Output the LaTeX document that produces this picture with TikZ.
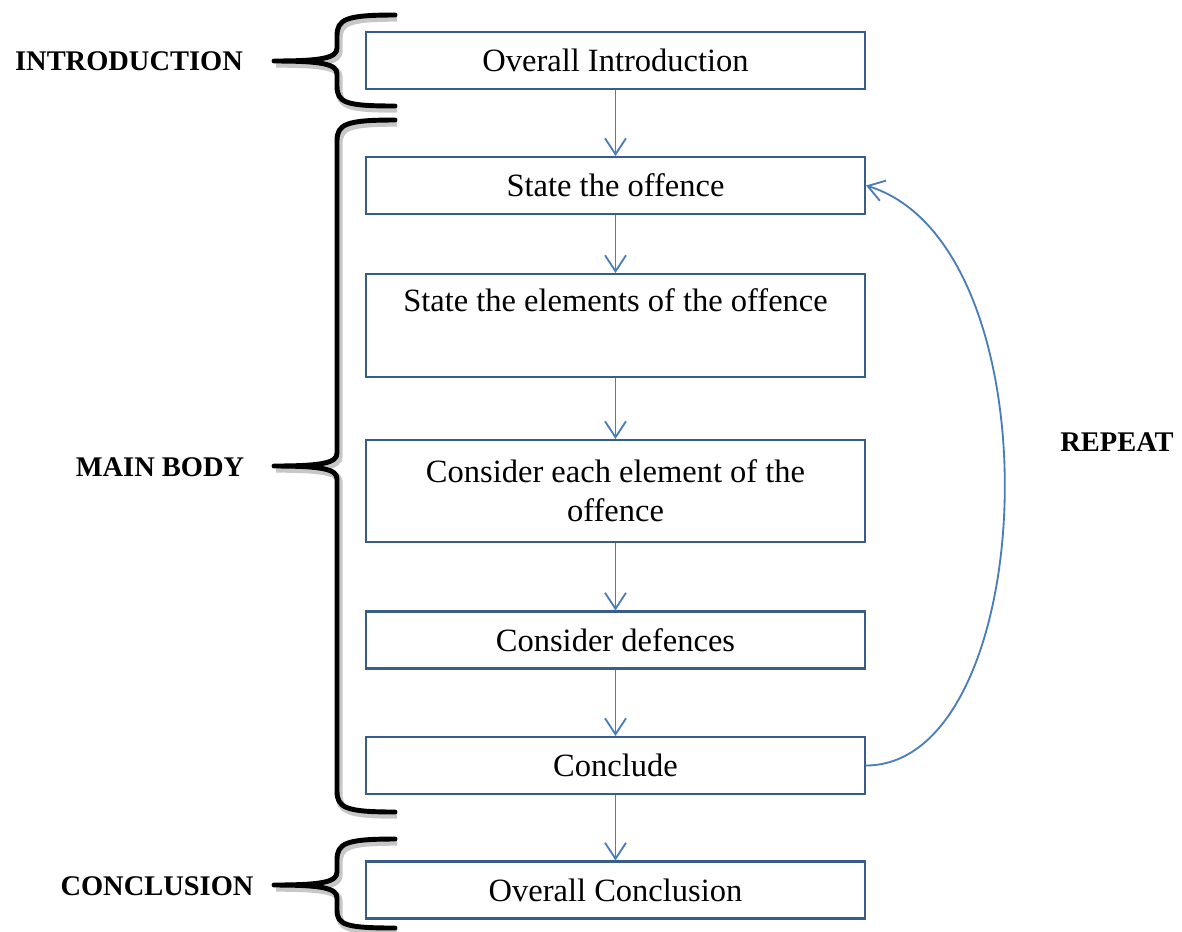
\documentclass[tikz,border=0pt]{standalone}
\usepackage{fontspec}
\setmainfont{Liberation Serif}
\usetikzlibrary{arrows.meta,positioning}
\definecolor{boxblue}{RGB}{56,93,138}
\definecolor{arrowblue}{RGB}{74,126,187}

\begin{document}
\begin{tikzpicture}[x=0.02cm,y=-0.02cm,>={Straight Barb[length=0.32cm,width=0.42cm]},
  stage/.style={draw=boxblue,line width=1.2pt,minimum width=9.98cm,minimum height=1.14cm,inner sep=0pt,align=center,font=\fontsize{18.5}{22}\selectfont},
  part/.style={font=\fontsize{16.2}{20}\selectfont\bfseries},
  flow/.style={->,arrowblue,line width=1.05pt},
  bracket/.style={line width=2.8pt,line cap=round,line join=round,
    preaction={draw=black!22,line width=4pt,transform canvas={xshift=1.2pt,yshift=-1.8pt}}}]

  \useasboundingbox (0,0) rectangle (1182,931);

  % The flow boxes
  \node [stage] at (615.5,60.5) (intro) {Overall Introduction};
  \node [stage] at (615.5,185.5) (offence) {State the offence};
  \node [stage,minimum height=2.06cm] at (615.5,325.5) (elements) {State the elements of the offence\\\strut};
  \node [stage,minimum height=2.04cm] at (615.5,491) (consider) {Consider each element of the\\offence};
  \node [stage] at (615.5,640) (defences) {Consider defences};
  \node [stage] at (615.5,765.5) (conclude) {Conclude};
  \node [stage] at (615.5,890) (overall) {Overall Conclusion};

  % Side labels
  \node [part] at (129,61) (introlabel) {INTRODUCTION};
  \node [part] at (160,467) (bodylabel) {MAIN BODY};
  \node [part] at (157,886) (endlabel) {CONCLUSION};
  \node [part] at (1117,442) (repeatlabel) {REPEAT};

  % Flow edges
  \path[flow]
  (intro) edge (offence)
  (offence) edge (elements)
  (elements) edge (consider)
  (consider) edge (defences)
  (defences) edge (conclude)
  (conclude) edge (overall);

  \draw[flow] (conclude.east) .. controls (1041,765) and (1060,245) .. (offence.east);

  % Braces
  \draw[bracket] (395,15) .. controls (346,15) and (337,19) .. (337,36) -- (337,48)
    .. controls (337,58) and (322,61) .. (274,61) .. controls (322,61) and (337,64) .. (337,74)
    -- (337,86) .. controls (337,103) and (346,106) .. (395,106);
  \draw[bracket] (395,120) .. controls (346,120) and (337,124) .. (337,141) -- (337,453)
    .. controls (337,463) and (322,466) .. (274,466) .. controls (322,466) and (337,469) .. (337,479)
    -- (337,791) .. controls (337,808) and (346,812) .. (395,812);
  \draw[bracket] (395,839) .. controls (346,839) and (337,843) .. (337,860) -- (337,872)
    .. controls (337,882) and (322,885) .. (274,885) .. controls (322,885) and (337,888) .. (337,898)
    -- (337,910) .. controls (337,925) and (346,928) .. (395,928);

\end{tikzpicture}
\end{document}
